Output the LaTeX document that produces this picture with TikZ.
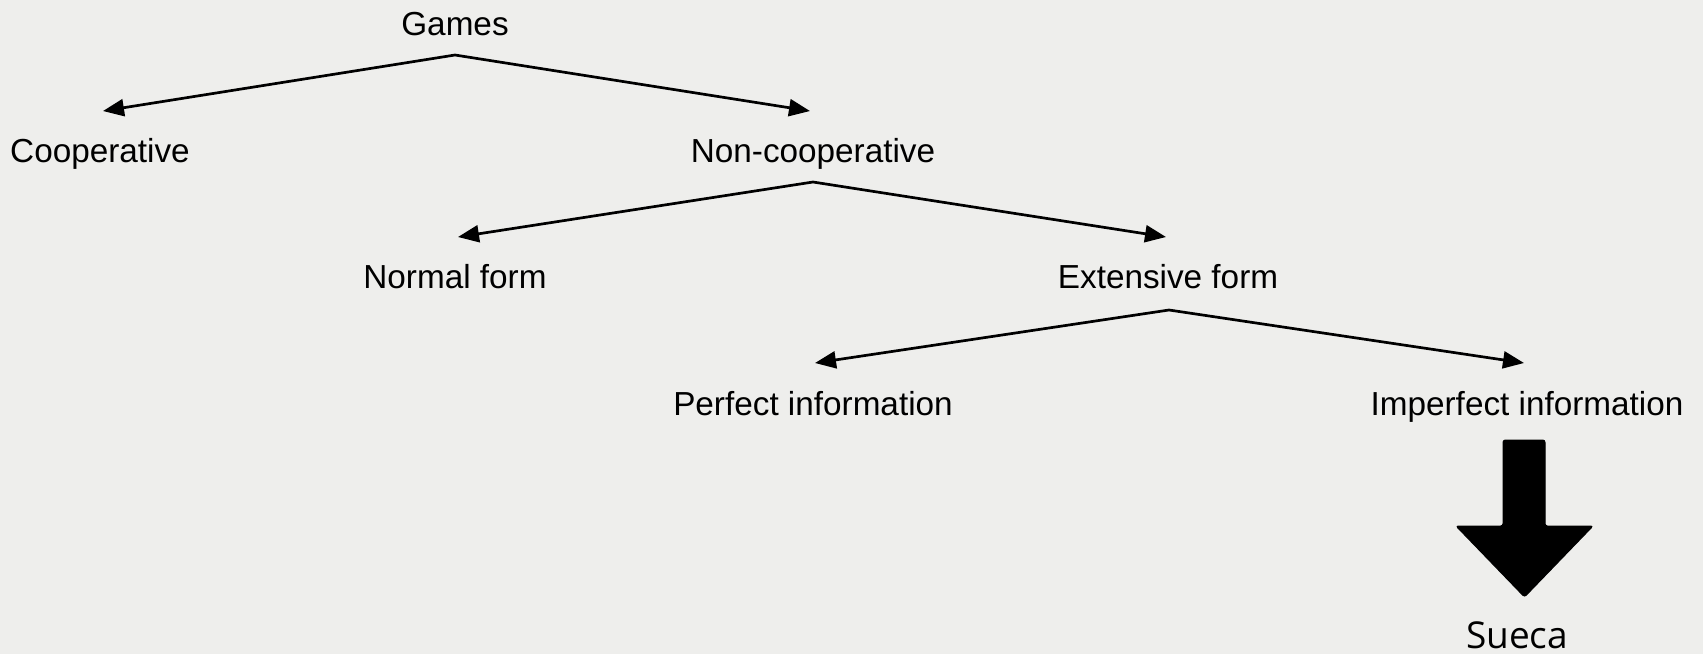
\documentclass[tikz,border=0pt]{standalone}
\usepackage{fontspec}
\setmainfont{Liberation Sans}
\newfontfamily\suecafont{Open Sans}
\usetikzlibrary{arrows.meta}
\definecolor{bgcol}{RGB}{238,238,236}
\tikzset{
  lbl/.style={anchor=base, inner sep=0pt, font=\fontsize{16.65pt}{20pt}\selectfont, text=black},
  branch/.style={line width=1.35pt, -{Triangle[length=10.5pt,width=8.5pt]}, black},
  blockarrow/.style={fill=black, draw=black, line width=0.5pt, rounded corners=1.2pt},
}
\begin{document}
\begin{tikzpicture}[x=0.5pt,y=-0.5pt]
\fill[bgcol] (0,0) rectangle (1703,654);
\useasboundingbox (0,0) rectangle (1703,654);
% nodes
\node[lbl] (games) at (455,35) {Games};
\node[lbl] (coop) at (100,162) {Cooperative};
\node[lbl] (noncoop) at (813,162) {Non-cooperative};
\node[lbl] (normal) at (455,288) {Normal form};
\node[lbl] (ext) at (1168,288) {Extensive form};
\node[lbl] (perf) at (813,415) {Perfect information};
\node[lbl] (imperf) at (1527,415) {Imperfect information};
\node[anchor=base, inner sep=0pt, font=\suecafont\fontsize{18.5pt}{22pt}\selectfont] (sueca) at (1517,648) {Sueca};
% apex and tip coordinates
\coordinate (a1) at (455,55);
\coordinate (t1l) at (103,111);
\coordinate (t1r) at (810,111);
\coordinate (a2) at (813,182);
\coordinate (t2l) at (458,237);
\coordinate (t2r) at (1166,237);
\coordinate (a3) at (1169,310);
\coordinate (t3l) at (815,363);
\coordinate (t3r) at (1524,363);
% branches
\draw[branch] (a1) -- (t1l);
\draw[branch] (a1) -- (t1r);
\draw[branch] (a2) -- (t2l);
\draw[branch] (a2) -- (t2r);
\draw[branch] (a3) -- (t3l);
\draw[branch] (a3) -- (t3r);
% block arrow
\path[blockarrow] (1503,440) -- (1545,440) -- (1545,526) -- (1593,526) -- (1524.5,597) -- (1456,526) -- (1503,526) -- cycle;
\end{tikzpicture}
\end{document}
